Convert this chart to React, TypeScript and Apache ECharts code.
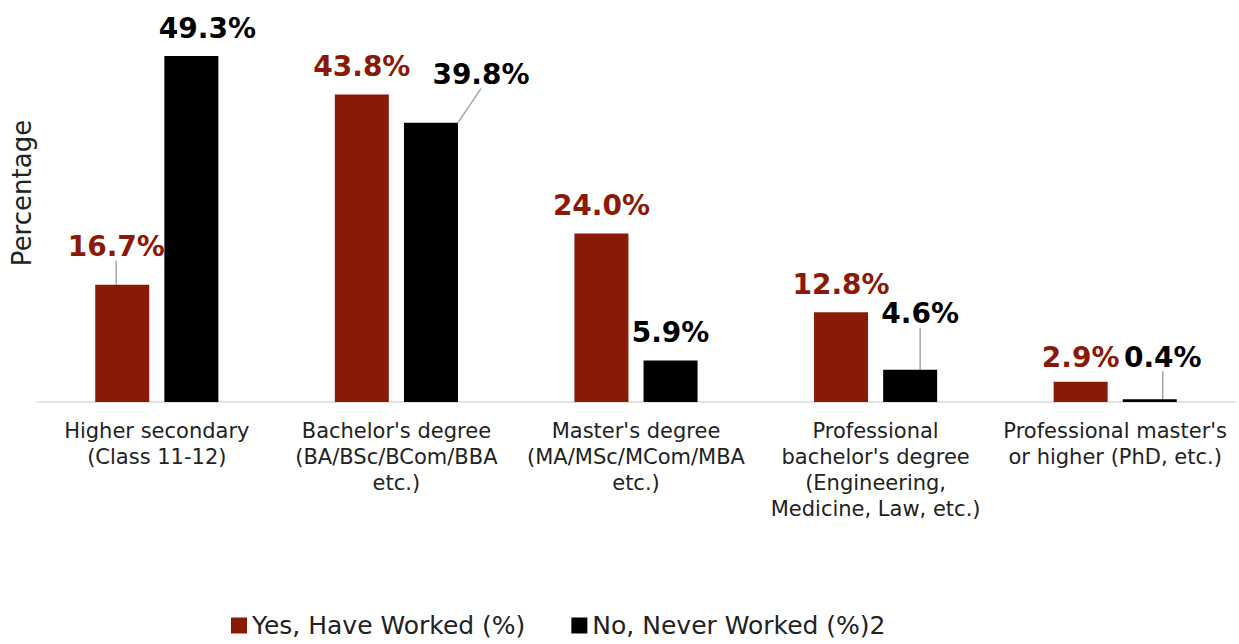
import React, { useEffect, useRef } from "react";
import * as echarts from "echarts";

const categories = [
  "Higher secondary\n(Class 11-12)",
  "Bachelor's degree\n(BA/BSc/BCom/BBA\netc.)",
  "Master's degree\n(MA/MSc/MCom/MBA\netc.)",
  "Professional\nbachelor's degree\n(Engineering,\nMedicine, Law, etc.)",
  "Professional master's\nor higher (PhD, etc.)",
];
const seriesNames = ["Yes, Have Worked (%)", "No, Never Worked (%)2"];
const workedValues = [16.7, 43.8, 24.0, 12.8, 2.9];
const neverWorkedValues = [49.3, 39.8, 5.9, 4.6, 0.4];
const yAxisTitle = "Percentage";

// label callout offsets [dx, dy] (layout, not data)
const workedOffsets = [[-6, -10], [0, 0], [0, 0], [0, 0], [0, 4]];
const neverOffsets = [[16, 0], [50, -20], [0, 0], [10, -28], [13, -14]];
const workedLines = [true, false, false, false, false];
const neverLines = [false, true, false, true, true];

const RED = "#8a1a07";

export default function App() {
  const ref = useRef<HTMLDivElement>(null);
  useEffect(() => {
    if (!ref.current) return;
    const chart = echarts.init(ref.current, null, { renderer: "svg" });
    const labelStyle = (color: string) => ({
      show: true,
      position: "top",
      distance: 14,
      color,
      fontFamily: "DejaVu Sans",
      fontWeight: "bold",
      fontSize: 28,
      formatter: (p: any) => Number(p.value).toFixed(1) + "%",
    });
    const mk = (vals: number[], lines: boolean[]) =>
      vals.map((v, i) => ({
        value: v,
        labelLine: { show: lines[i] },
      }));
    chart.setOption({
      animation: false,
      backgroundColor: "#ffffff",
      grid: { left: 37, right: 4, top: 16, bottom: 242, containLabel: false },
      legend: {
        left: 226,
        top: 608,
        itemWidth: 16,
        itemHeight: 16,
        itemGap: 46,
        icon: "rect",
        textStyle: { fontFamily: "DejaVu Sans", fontSize: 25, color: "#222" },
        data: seriesNames,
      },
      xAxis: {
        type: "category",
        data: categories,
        axisLine: { show: true, lineStyle: { color: "#d9d9d9", width: 1.5 } },
        axisTick: { show: false },
        axisLabel: {
          interval: 0,
          margin: 16,
          fontFamily: "DejaVu Sans",
          fontSize: 21,
          lineHeight: 26,
          color: "#222",
        },
      },
      yAxis: {
        type: "value",
        min: 0,
        max: 55,
        show: false,
        splitLine: { show: false },
      },
      graphic: [
        {
          type: "text",
          x: 22,
          y: 193,
          rotation: Math.PI / 2,
          style: {
            text: yAxisTitle,
            fontFamily: "DejaVu Sans",
            fontSize: 26,
            fill: "#222",
            textAlign: "center",
            textVerticalAlign: "middle",
          },
        },
      ],
      series: [
        {
          name: seriesNames[0],
          type: "bar",
          barWidth: 54,
          barGap: "28%",
          itemStyle: { color: RED },
          label: labelStyle(RED),
          labelLine: { show: false, lineStyle: { color: "#a6a6a6", width: 1.5 } },
          labelLayout: (p: any) => ({ dx: workedOffsets[p.dataIndex][0], dy: workedOffsets[p.dataIndex][1] }),
          data: mk(workedValues, workedLines),
        },
        {
          name: seriesNames[1],
          type: "bar",
          barWidth: 54,
          barGap: "28%",
          itemStyle: { color: "#000000" },
          label: labelStyle("#000000"),
          labelLine: { show: false, lineStyle: { color: "#a6a6a6", width: 1.5 } },
          labelLayout: (p: any) => ({ dx: neverOffsets[p.dataIndex][0], dy: neverOffsets[p.dataIndex][1] }),
          data: mk(neverWorkedValues, neverLines),
        },
      ],
    });
    return () => chart.dispose();
  }, []);
  return <div ref={ref} style={{ width: 1239, height: 644, position: "absolute", left: 0, top: 0 }} />;
}
